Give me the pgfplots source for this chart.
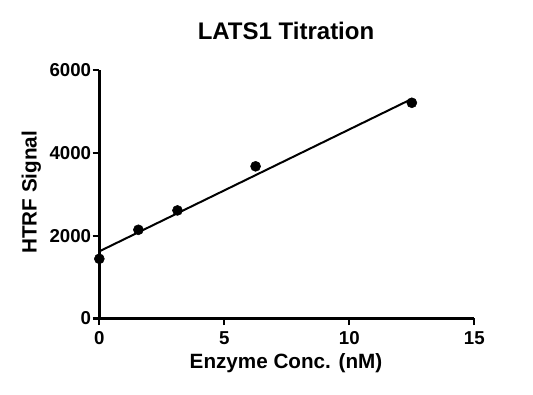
\documentclass[border=0pt]{standalone}
\usepackage{pgfplots}
\pgfplotsset{compat=1.18}
\usepackage{fontspec}
\setmainfont{Liberation Sans}
\begin{document}
\begin{tikzpicture}
\useasboundingbox (0,0) rectangle (399.75pt,296.25pt);
\begin{axis}[
  at={(74.5pt,57.4pt)}, anchor=origin,
  scale only axis,
  width=281.25pt, height=186.4pt,
  xmin=0, xmax=15, ymin=0, ymax=6000,
  xtick={0,5,10,15}, ytick={0,2000,4000,6000},
  axis x line*=bottom, axis y line*=left,
  axis line style={line width=2pt, -},
  tick align=outside,
  major tick length=5pt,
  tick style={line width=1.6pt, black},
  /pgf/number format/assume math mode=true,
  /pgf/number format/1000 sep={},
  ticklabel style={font=\bfseries\fontsize{14}{16}\selectfont},
  yticklabel style={inner sep=1pt},
  xticklabel style={inner sep=2pt, yshift=-2.5pt},
  clip=false,
]
\addplot[black, line width=1.5pt] coordinates {(0,1620) (12.5,5300)};
\addplot[only marks, mark=*, mark size=3.75pt, black] coordinates {
  (0,1440) (1.5625,2141) (3.125,2608) (6.25,3673) (12.5,5207)
};
\end{axis}
\node[anchor=base, font=\bfseries\fontsize{18}{22}\selectfont] at (214.5pt,266.25pt) {LATS1 Titration};
\node[anchor=base, font=\bfseries\fontsize{15.5}{18}\selectfont] at (214.5pt,19.5pt) {Enzyme Conc. (nM)};
\node[rotate=90, font=\bfseries\fontsize{15.5}{18}\selectfont] at (23.5pt,152pt) {HTRF Signal};
\end{tikzpicture}
\end{document}
